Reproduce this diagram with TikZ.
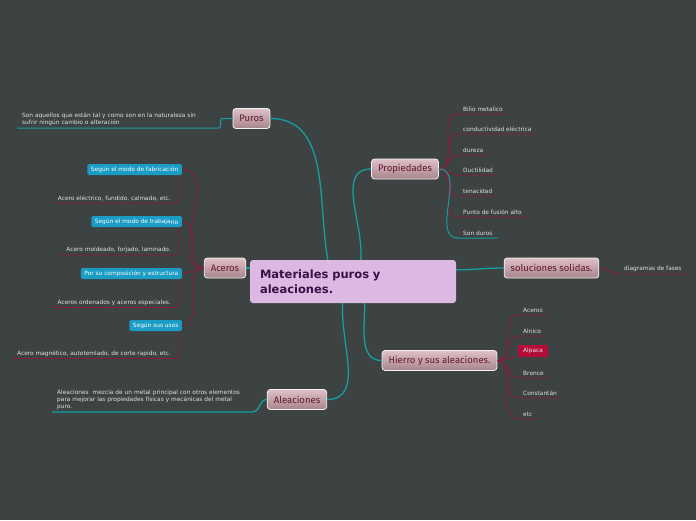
\documentclass[tikz,border=0pt]{standalone}
\usepackage{fontspec}
\setmainfont{DejaVu Sans}
\newfontfamily\topicfont{Fira Sans}
\usetikzlibrary{calc}

\definecolor{bgdark}{RGB}{61,66,67}
\definecolor{tealline}{RGB}{20,160,160}
\definecolor{redline}{RGB}{138,28,58}
\definecolor{mainfill}{RGB}{219,185,226}
\definecolor{maintext}{RGB}{58,16,70}
\definecolor{topictop}{RGB}{224,192,199}
\definecolor{topicbot}{RGB}{166,132,140}
\definecolor{topictext}{RGB}{100,22,50}
\definecolor{bluefill}{RGB}{26,156,196}
\definecolor{leaftext}{RGB}{225,225,225}
\definecolor{alpacafill}{RGB}{180,14,56}

\tikzset{
  maintopic/.style={rectangle, rounded corners=3pt, fill=mainfill, text=maintext,
    font=\bfseries\fontsize{11.5}{15}\selectfont, text width=186pt, inner xsep=10pt,
    minimum height=43pt, align=left},
  topic/.style={rectangle, rounded corners=3pt, draw=white!90!gray, line width=0.8pt,
    top color=topictop, bottom color=topicbot, text=topictext,
    font=\topicfont\fontsize{9.5}{11}\selectfont, inner xsep=6.5pt, inner ysep=0pt, minimum height=20pt},
  leaf/.style={text=leaftext, font=\fontsize{5.85}{7}\selectfont, inner xsep=5pt, inner ysep=2pt, align=left},
  tag/.style={rectangle, rounded corners=1.5pt, fill=bluefill, text=white,
    font=\fontsize{5.85}{7}\selectfont, inner xsep=3.5pt, inner ysep=0pt, minimum height=11pt},
  tl/.style={draw=tealline, line width=1.3pt},
  tlthin/.style={draw=tealline, line width=1pt},
  rl/.style={draw=redline, line width=0.8pt},
}

\begin{document}
\begin{tikzpicture}[x=1pt, y=-1pt]
  \fill[bgdark] (0,0) rectangle (696,520);

  % main topics
  \node[maintopic] (main) at (353,281.5) {Materiales puros y\\aleaciones.};
  \node[topic] (puros) at (251.5,118.5) {Puros};
  \node[topic] (prop) at (405,169) {Propiedades};
  \node[topic] (aceros) at (225,268) {Aceros};
  \node[topic] (sol) at (551.5,268) {soluciones solidas.};
  \node[topic] (hierro) at (439.5,360.5) {Hierro y sus aleaciones.};
  \node[topic] (alea) at (297,399.5) {Aleaciones};

  \draw[tl] ([xshift=78]main.north west) to[out=100,in=0] (puros.east);
  \draw[tl] ([xshift=111]main.north west) to[out=85,in=180] (prop.west);
  \draw[tl] (aceros.east) -- (aceros.east -| main.west);
  \draw[tl] ([yshift=-10]main.north east) to[out=0,in=180] (sol.west);
  \draw[tl] ([xshift=93]main.south west) to[out=-95,in=0] (alea.east);
  \draw[tl] ([xshift=115]main.south west) to[out=-90,in=180] (hierro.west);

  % Puros
  \node[leaf, anchor=south west, text width=190pt] (puc) at (17,128)
    {Son aquellos que están tal y como son en la naturaleza sin\\sufrir ningún cambio o alteración};
  \draw[tlthin, rounded corners=2pt] (puros.west) -- ++(-12,0) |- (puc.south west);

  % Propiedades
  \node[leaf, anchor=south west] (p1) at (458,114) {Bilio metalico};
  \node[leaf, anchor=south west] (p2) at (458,134) {conductividad eléctrica};
  \node[leaf, anchor=south west] (p3) at (458,155) {dureza};
  \node[leaf, anchor=south west] (p4) at (458,175) {Ductilidad};
  \node[leaf, anchor=south west] (p5) at (458,196) {tenacidad};
  \node[leaf, anchor=south west] (p6) at (458,217) {Punto de fusión alto};
  \node[leaf, anchor=south west] (p7) at (458,238) {Son duros};
  \draw[rl] (prop.east) to[out=0,in=180] (p1.south west) -- (p1.south east);
  \draw[rl] (prop.east) to[out=0,in=180] (p2.south west) -- (p2.south east);
  \draw[rl] (prop.east) to[out=0,in=180] (p3.south west) -- (p3.south east);
  \draw[rl] (prop.east) to[out=0,in=180] (p4.south west) -- (p4.south east);
  \draw[rl] (prop.east) to[out=0,in=180] (p5.south west) -- (p5.south east);
  \draw[rl] (prop.east) to[out=0,in=180] (p6.south west) -- (p6.south east);
  \draw[tlthin] (prop.east) to[out=0,in=180] (p7.south west) -- (p7.south east);

  % Aceros
  \node[tag, anchor=east] (s1) at (182,169.5) {Según el modo de fabricación};
  \node[tag, anchor=east] (s2) at (182,221.5) {Según el modo de trabaja\raisebox{-0.8pt}{rio}};
  \node[tag, anchor=east] (s3) at (182,273.5) {Por su composición y estructura};
  \node[tag, anchor=east] (s4) at (182,325.5) {Según sus usos};
  \node[leaf, anchor=south east] (s1c) at (176,203) {Acero eléctrico, fundido, calmado, etc.};
  \node[leaf, anchor=south east] (s2c) at (176,255) {Acero moldeado, forjado, laminado.};
  \node[leaf, anchor=south east] (s3c) at (176,307.5) {Aceros ordenados y aceros especiales.};
  \node[leaf, anchor=south east] (s4c) at (176,358.5) {Acero magnético, autotemlado, de corte rapido, etc.};
  \draw[rl] (aceros.west) to[out=180,in=0] (s1.east);
  \draw[rl] (aceros.west) to[out=180,in=0] (s2.east);
  \draw[rl] (aceros.west) to[out=180,in=0] (s3.east);
  \draw[rl] (aceros.west) to[out=180,in=0] (s4.east);
  \draw[rl, rounded corners=4pt] ([xshift=-3]s1.south east) |- (s1c.south west);
  \draw[rl, rounded corners=4pt] ([xshift=-3]s2.south east) |- (s2c.south west);
  \draw[rl, rounded corners=4pt] ([xshift=-3]s3.south east) |- (s3c.south west);
  \draw[rl, rounded corners=4pt] ([xshift=-3]s4.south east) |- (s4c.south west);

  % soluciones solidas
  \node[leaf, anchor=south west] (sc) at (619,274) {diagramas de fases};
  \draw[rl] (sol.east) to[out=0,in=180] (sc.south west) -- (sc.south east);

  % Hierro
  \node[leaf, anchor=south west] (h1) at (518,315) {Aceros};
  \node[leaf, anchor=south west] (h2) at (518,336) {Alnico};
  \node[leaf, anchor=south west, fill=alpacafill, inner ysep=3pt] (h3) at (518,357) {Alpaca};
  \node[leaf, anchor=south west] (h4) at (518,378) {Bronce};
  \node[leaf, anchor=south west] (h5) at (518,398) {Constantán};
  \node[leaf, anchor=south west] (h6) at (518,419) {etc};
  \draw[rl] (hierro.east) to[out=0,in=180] (h1.south west) -- (h1.south east);
  \draw[rl] (hierro.east) to[out=0,in=180] (h2.south west) -- (h2.south east);
  \draw[rl] (hierro.east) to[out=0,in=180] (h3.south west) -- (h3.south east);
  \draw[rl] (hierro.east) to[out=0,in=180] (h4.south west) -- (h4.south east);
  \draw[rl] (hierro.east) to[out=0,in=180] (h5.south west) -- (h5.south east);
  \draw[rl] (hierro.east) to[out=0,in=180] (h6.south west) -- (h6.south east);

  % Aleaciones
  \node[leaf, anchor=south west, text width=190pt] (ac) at (52,412)
    {Aleaciones\ \ mezcla de un metal principal con otros elementos\\para mejorar las propiedades físicas y mecánicas del metal\\puro.};
  \draw[tl] (alea.west) to[out=180,in=0] (ac.south east) -- (ac.south west);
\end{tikzpicture}
\end{document}
